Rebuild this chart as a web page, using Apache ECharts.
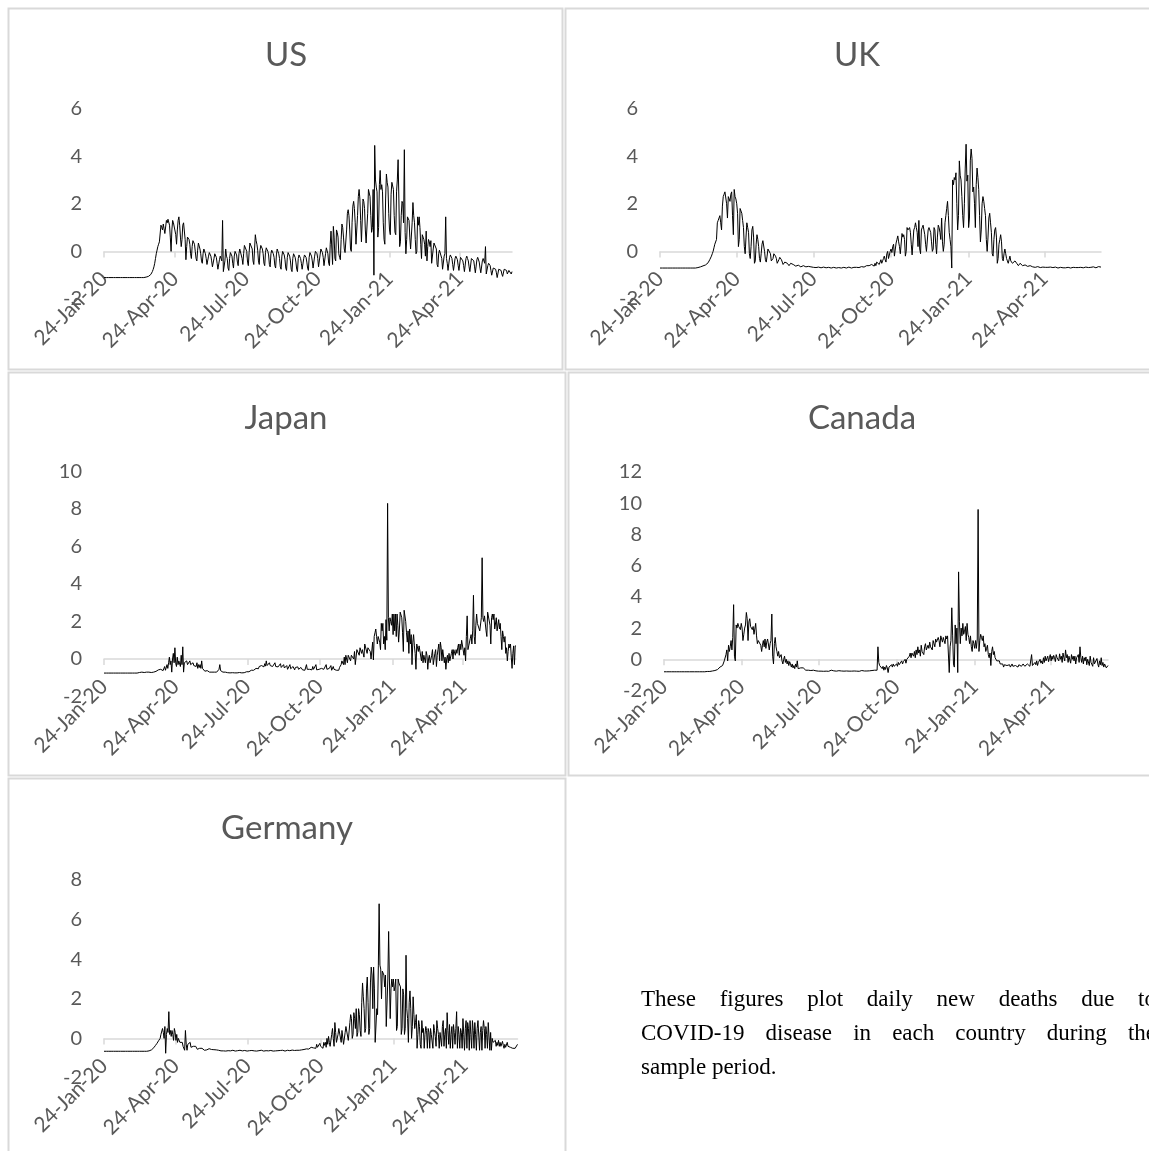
<!DOCTYPE html>
<html><head><meta charset="utf-8">
<script src="https://cdn.jsdelivr.net/npm/echarts@6/dist/echarts.min.js"></script>
<style>html,body{margin:0;padding:0;background:#fff;overflow:hidden}#c{width:1149px;height:1151px}</style>
</head><body><div id="c"></div><script>
// Daily observations from 24-Jan-20, 524 days
const START_DATE = [2020, 0, 24];
const DAY_COUNT = 524;
const TICK_LABELS = ['24-Jan-20','24-Apr-20','24-Jul-20','24-Oct-20','24-Jan-21','24-Apr-21'];
const COUNTRIES = ['US','UK','Japan','Canada','Germany'];
const Y_MIN = [-2,-2,-2,-2,-2];
const Y_MAX = [6,6,10,12,8];

const US = [
-1.1,-1.1,-1.1,-1.1,-1.1,-1.1,-1.1,-1.1,-1.1,-1.1,-1.1,-1.1,-1.1,
-1.1,-1.1,-1.1,-1.1,-1.1,-1.1,-1.1,-1.1,-1.1,-1.1,-1.1,-1.1,-1.1,
-1.1,-1.1,-1.1,-1.1,-1.1,-1.1,-1.1,-1.1,-1.1,-1.1,-1.1,-1.1,-1.1,
-1.1,-1.1,-1.1,-1.1,-1.1,-1.1,-1.1,-1.1,-1.1,-1.1,-1.1,-1.1,-1.1,
-1.1,-1.09,-1.08,-1.07,-1.06,-1.05,-1.03,-1,-0.97,-0.92,-0.85,-0.76,-0.65,-0.5,-0.3,-0.1,0.05,0.2,0.3,0.4,0.45,
1.1,1,0.9,1.15,0.95,0.75,0.8,1.3,1.2,1.35,1.4,1.1,0.6,0,0.9,1.3,1.2,1.25,1.2,0.7,0.3,0.9,1.3,1.45,1.1,0.6,0.2,0.5,1.1,1.2,1.2,0.5,
-0.35,0.2,0.6,0.65,0.5,0.3,-0.1,
-0.3,0.2,0.45,0.4,0.3,0,-0.3,
-0.4,0.05,0.35,0.3,0.1,-0.1,-0.4,
-0.5,-0.1,0.1,0.05,-0.1,-0.3,-0.55,
-0.6,-0.2,-0.05,-0.1,-0.2,-0.4,-0.65,
-0.7,-0.3,-0.1,-0.15,-0.25,-0.5,-0.75,
-0.8,-0.35,-0.2,-0.3,-0.4,1.3,-0.85,
-0.85,-0.4,0.1,-0.2,
-0.3,-0.7,-0.8,-0.3,-0.05,-0.1,-0.2,
-0.5,-0.7,-0.2,0,-0.05,-0.15,-0.45,
-0.6,-0.1,0.1,0.15,0.05,-0.3,-0.55,
-0.1,0.25,0.3,0.2,0,-0.45,-0.6,
-0.05,0.35,0.4,0.3,0.1,-0.4,-0.55,
0.1,0.7,0.45,0.3,0.05,-0.4,-0.55,
0.05,0.25,0.2,0.1,-0.1,-0.5,-0.6,
-0.05,0.15,0.1,0,-0.15,-0.55,-0.65,
-0.1,0.05,0,-0.1,-0.25,-0.6,-0.7,
-0.15,0.1,0,-0.1,-0.3,-0.65,-0.75,
-0.2,0,-0.05,-0.15,-0.35,-0.7,-0.8,
-0.25,-0.05,-0.1,-0.2,-0.4,-0.75,-0.85,
-0.3,-0.1,-0.15,-0.25,-0.45,-0.75,-0.85,
-0.3,-0.15,-0.2,-0.3,-0.5,-0.75,-0.8,
-0.3,-0.15,-0.15,-0.25,-0.45,-0.7,-0.8,
-0.25,-0.05,-0.1,-0.2,-0.4,-0.7,-0.75,
-0.2,0,-0.05,-0.1,-0.3,-0.65,-0.7,
-0.15,0.1,0.05,-0.05,-0.25,-0.6,-0.65,
-0.1,0.15,0.1,-0.1,-0.5,-0.6,0.3,
0.85,0.9,-0.55,1.05,0.6,-0.3,-0.4,
0.9,0.8,0.6,-0.1,-0.25,-0.35,0.5,
1.15,1,0.6,0.1,-0.05,0,0.9,
1.6,1.75,1.5,0.9,0.1,0,1.2,
1.9,2.1,1.8,1.2,0.3,0.25,1.5,
2.3,2.6,2.2,1.3,0.4,0.35,2.2,
2.1,1.8,0.9,0.35,0.4,1.6,2.6,
2.6,2.3,1.5,0.8,1,2.6,-1,
4.45,3,2.7,2.5,0.6,1,2.8,
3.4,2.6,2.8,2.5,1.2,0.5,0.3,
2.2,3.25,2.9,2.7,1.6,0.9,0.7,
2.4,2.9,2.9,2.6,1.5,0.8,0.7,
2.5,3,3.85,2.2,0.2,0.4,1.5,
2.1,2,1.2,4.27,0.8,-0.1,0.5,
1.45,1.5,1.3,0.6,0.1,0.15,1.2,
2.05,1.5,1.2,0.5,-0.1,0,1.45,
1.1,1.45,1,0.3,-0.3,0.7,0.6,
0.5,0.3,-0.2,0.85,-0.4,0.2,0.5,
0.4,0.2,0.45,-0.5,-0.55,0.1,0.35,
0.3,0.4,0.1,-0.55,-0.65,-0.1,0.05,
0,0.05,-0.3,-0.75,-0.8,-0.2,-0.1,
1.45,-0.3,
-0.5,-0.8,-0.85,-0.25,-0.15,-0.2,-0.3,
-0.55,-0.8,-0.85,-0.3,-0.2,-0.25,-0.35,
-0.6,-0.8,-0.85,-0.25,-0.2,-0.25,-0.4,
-0.6,-0.85,-0.85,-0.3,-0.2,-0.3,-0.4,
-0.65,-0.85,-0.9,-0.3,-0.25,-0.3,-0.4,
-0.65,-0.9,-0.9,-0.35,-0.25,-0.3,-0.45,
-0.7,-0.9,-0.95,-0.4,-0.3,-0.35,-0.5,
0.2,-0.95,
-0.9,-0.6,-0.5,-0.55,-0.6,-0.8,-1,
-1.05,-0.7,-0.65,-0.7,-0.75,-0.9,-1.1,
-1.1,-0.75,-0.7,-0.75,-0.8,-0.95,-1.05,
-1.05,-0.75,-0.7,-0.75,-0.8,-0.95,-1,
-0.8,-0.75,-0.8,-0.95,-0.85
];

const UK = [
-0.7,-0.7,-0.7,-0.7,-0.7,-0.7,-0.7,-0.7,-0.7,-0.7,
-0.7,-0.7,-0.7,-0.7,-0.7,-0.7,-0.7,-0.7,-0.7,-0.7,
-0.7,-0.7,-0.7,-0.7,-0.7,-0.7,-0.7,-0.7,-0.7,-0.7,
-0.7,-0.7,-0.7,-0.7,-0.7,-0.7,-0.7,-0.7,-0.7,-0.7,
-0.7,-0.7,-0.7,
-0.7,-0.69,-0.68,-0.67,-0.66,-0.65,-0.64,-0.62,-0.61,-0.6,
-0.58,-0.57,-0.55,-0.52,-0.48,-0.42,-0.35,-0.3,-0.2,-0.1,
0,0.15,0.3,0.25,0.5,1.2,1.3,1.35,1.5,1.2,
0.9,1.9,2.3,2.4,2.5,2.55,2,1.4,2.3,2.2,
2.1,2.4,2.5,1.5,0.7,2.6,2.3,2.2,2,1.6,
0.2,0.5,1.8,1.85,1.6,1.3,1,0.2,-0.1,0.6,
1.2,1,0.8,-0.1,-0.3,0.2,0.9,1.05,0.6,-0.5,
-0.4,0.3,0.7,0.5,0.2,-0.3,-0.45,-0.1,0.3,0.45,
0.45,0,-0.35,-0.45,-0.2,0.1,0.05,0.05,-0.1,-0.4,
-0.45,-0.3,-0.1,-0.15,-0.2,-0.3,-0.5,-0.5,-0.35,-0.25,
-0.3,-0.35,-0.45,-0.55,-0.55,-0.45,-0.4,-0.45,-0.5,-0.55,
-0.6,-0.6,-0.5,-0.5,-0.52,-0.55,-0.6,-0.62,-0.62,-0.55,
-0.55,-0.58,-0.6,-0.63,-0.65,-0.65,-0.6,-0.6,-0.62,-0.63,
-0.65,-0.66,-0.66,-0.63,-0.63,-0.64,-0.65,-0.66,-0.67,-0.67,
-0.66,-0.67,-0.68,-0.68,-0.67,-0.66,-0.67,-0.68,-0.69,-0.68,
-0.67,-0.66,-0.67,-0.68,-0.69,-0.69,-0.68,-0.67,-0.68,-0.69,
-0.7,-0.69,-0.68,-0.67,-0.68,-0.69,-0.7,-0.7,-0.69,-0.68,
-0.69,-0.7,-0.7,-0.69,-0.68,-0.67,-0.68,-0.69,-0.7,-0.69,
-0.68,-0.66,-0.67,-0.69,-0.7,-0.68,-0.66,-0.67,-0.68,-0.69,
-0.67,-0.65,-0.66,-0.68,-0.69,-0.67,-0.64,-0.66,
-0.64,-0.66,-0.67,-0.62,-0.6,-0.62,-0.64,
-0.6,-0.64,-0.55,-0.55,-0.58,-0.6,-0.62,
-0.5,-0.6,-0.45,-0.5,-0.52,-0.55,-0.58,
-0.35,-0.5,-0.4,-0.3,-0.2,-0.35,-0.45,
-0.1,0,-0.3,-0.35,0,0.1,-0.05,0.2,0.3,-0.2,
-0.25,0.35,0.5,0.65,0.4,0.2,-0.1,-0.15,0.75,0.6,
0.7,0.5,-0.2,0,1,0.9,0.95,1,0.8,0.3,
-0.15,-0.2,0.9,1,1.2,1,0.8,0.2,1.3,0.1,
-0.1,0.9,1,1.1,1.1,0.7,0.3,0,-0.05,0.9,
1,1,0.8,0.4,0,0.1,1,0.9,0.3,-0.1,
0.6,1.1,1,0.8,0.5,1.4,0.4,0,0.3,1.2,
1.5,1.8,2.1,1.5,0.8,0.5,0.2,-0.7,3,2.8,
3.1,3,3.3,2,0.9,1.5,3.8,3.2,3,2.3,
1.5,1,2,3.5,4.5,2.95,3.2,1,1.4,3.8,
4.3,3.9,2.5,2.7,2,1,2.8,3.5,3.1,2.6,
1.5,0.4,0.9,2,2.3,2.1,1.8,1.5,0.5,0,
0.6,1.4,1.6,1.2,0.8,-0.1,-0.2,0.5,0.9,1,
0.6,-0.5,-0.3,0.3,0.5,0.7,0.4,-0.3,-0.4,-0.1,
0.1,-0.1,-0.3,-0.4,-0.5,-0.35,-0.2,-0.4,-0.45,-0.5,
-0.55,-0.45,-0.4,-0.45,-0.5,-0.55,-0.6,-0.55,-0.5,-0.55,
-0.58,-0.6,-0.63,-0.6,-0.57,-0.6,-0.62,-0.63,-0.65,-0.63,
-0.6,-0.62,-0.64,-0.65,
-0.66,-0.65,-0.67,-0.68,-0.66,-0.64,-0.66,-0.67,-0.68,-0.67,
-0.65,-0.66,-0.68,-0.69,-0.67,-0.65,-0.66,-0.67,-0.69,-0.68,
-0.66,-0.65,-0.67,-0.68,-0.69,-0.67,-0.66,-0.68,-0.69,-0.7,
-0.68,-0.66,-0.67,-0.69,-0.7,-0.69,-0.67,-0.68,-0.69,-0.7,
-0.68,-0.67,-0.68,-0.69,-0.7,-0.68,-0.66,-0.67,-0.69,-0.69,
-0.68,-0.66,-0.67,-0.68,-0.7,-0.69,-0.67,-0.66,-0.68,-0.69,
-0.68,-0.67,-0.66,-0.68,-0.69,-0.68,-0.66,-0.65,-0.67,-0.68,
-0.67,-0.65,-0.66,-0.68,-0.69,-0.67,-0.65,-0.64,-0.66,-0.67,
-0.66
];

const JAPAN = [
-0.75,-0.75,-0.75,-0.75,-0.75,-0.75,-0.75,-0.75,-0.75,-0.75,
-0.75,-0.75,-0.75,-0.75,-0.75,-0.75,-0.75,-0.75,-0.75,-0.75,
-0.75,-0.75,-0.75,-0.75,-0.75,-0.75,-0.75,-0.75,-0.75,-0.75,
-0.75,-0.75,-0.75,-0.75,-0.75,-0.75,-0.75,-0.75,-0.75,-0.75,
-0.75,
-0.74,-0.75,-0.73,-0.75,-0.72,-0.74,-0.75,-0.7,-0.73,-0.74,
-0.72,-0.68,-0.73,-0.7,-0.66,-0.72,-0.7,-0.65,-0.7,-0.72,
-0.66,-0.62,-0.7,-0.68,-0.6,-0.66,-0.7,-0.62,-0.58,-0.68,
-0.6,-0.55,-0.65,-0.5,-0.62,-0.58,-0.4,-0.6,-0.55,-0.3,
-0.5,-0.2,0.1,-0.3,-0.1,-0.7,0,0.3,-0.2,0.6,
-0.2,-0.4,0.1,-0.3,-0.1,-0.15,-0.4,0.2,-0.3,0.65,
-0.7,-0.2,-0.3,-0.1,-0.1,-0.3,-0.2,-0.4,-0.1,-0.3,
-0.2,-0.4,-0.2,-0.35,-0.3,-0.45,-0.4,-0.2,-0.5,-0.3,
-0.45,-0.3,-0.5,-0.1,-0.5,-0.6,-0.55,-0.65,-0.6,-0.65,
-0.62,-0.68,-0.65,-0.7,-0.66,-0.64,-0.7,-0.68,-0.62,-0.7,
-0.68,-0.65,-0.7,-0.66,-0.6,-0.55,-0.3,-0.62,-0.7,-0.68,
-0.7,-0.72,-0.68,-0.7,-0.72,-0.7,-0.73,-0.7,-0.72,-0.74,
-0.72,-0.74,-0.73,-0.75,-0.72,-0.74,-0.75,-0.73,-0.74,-0.75,
-0.74,-0.72,-0.75,-0.73,-0.74,-0.72,-0.7,-0.73,-0.72,-0.7,
-0.68,-0.7,-0.65,-0.68,-0.62,-0.66,-0.6,-0.63,-0.58,-0.6,
-0.55,-0.58,-0.5,-0.55,-0.48,-0.52,-0.4,-0.5,-0.45,-0.35,
-0.45,-0.3,-0.42,-0.25,-0.38,-0.1,-0.35,-0.3,-0.4,-0.2,
-0.35,-0.45,-0.25,-0.4,-0.3,
-0.45,-0.2,-0.4,-0.5,-0.3,-0.42,-0.35,-0.5,-0.25,-0.45,
-0.4,-0.55,-0.3,-0.48,-0.4,-0.5,-0.35,-0.55,-0.45,-0.5,
-0.3,-0.52,-0.45,-0.55,-0.4,-0.5,-0.58,-0.45,-0.5,-0.55,
-0.42,-0.55,-0.5,-0.6,-0.45,-0.52,-0.58,-0.5,-0.55,-0.6,
-0.5,-0.3,-0.55,-0.6,-0.45,-0.55,-0.6,-0.5,-0.58,-0.4,
-0.55,-0.6,-0.5,-0.3,-0.58,-0.5,-0.6,-0.55,-0.45,-0.6,
-0.5,-0.58,-0.4,-0.55,-0.6,-0.5,-0.3,-0.55,-0.45,-0.6,
-0.5,-0.55,-0.35,-0.6,-0.5,-0.4,-0.55,-0.58,-0.45,-0.6,
-0.5,-0.55,-0.6,-0.45,-0.4,
-0.3,-0.1,0,-0.3,0.1,-0.3,0.2,0.1,-0.2,0.2,
0.1,0.3,-0.1,0.2,0.3,0.3,0,0.4,-0.3,-0.3,
0.5,0.4,0.6,0.2,0.6,0.7,0.3,0.5,0.5,0.1,
0.8,0.7,0.8,0.3,0.6,0.7,0.7,0.4,0,-0.05,
0.9,-0.05,1.2,1.4,1.6,1.2,0.8,1.2,1.2,0.9,
0.5,1.9,1.5,1.9,0.8,1.2,0.5,2.1,1,
8.3,
2.2,1.5,2.2,2,1.8,2.4,1.3,2.4,1.5,2.4,
1.2,2.4,1.8,0.9,1.6,2.5,2.6,2.2,1.4,0.4,
2.6,2.6,2,1.4,0.9,1.5,0.3,1.6,0.8,1.3,
-0.3,0.9,1.3,0.7,0.3,-0.55,0.8,0.9,0.4,0.7,
0.7,0.8,-0.1,0.4,-0.2,0.2,0.3,-0.2,0.4,0.2,
-0.55,0,0.2,-0.2,-0.1,0.2,0.5,-0.3,0,0.3,
0.5,-0.4,0.2,0.5,0.8,-0.1,0.9,0.6,-0.1,0.5,
0.4,-0.2,0.1,-0.55,0,0.2,-0.2,0.3,-0.1,-0.2,
0.3,0.5,0,0.5,0.4,0.2,0.5,0.3,0.6,0.8,
0.2,0.8,0.5,1,0.9,0.9,0.2,0.6,-0.1,1.2,
2.3,0.5,0.7,0.7,1.1,1.3,0.8,1.5,3.4,1.2,
0.8,1.8,2.4,1.9,1.8,2,1.5,1.5,2.2,5.4,
2.2,2,2.3,2.3,1.5,1.2,2.5,2.4,2.5,1.8,
0.8,2.2,2.4,2.1,2.4,1.6,1.5,2.2,1.5,1.5,
2.1,1.6,1.9,1.2,0.5,1.5,1.2,0.9,1.2,0.3,
0.6,-0.1,0.4,0.8,0.6,0.8,0.1,-0.5,0.3,0.7,
-0.3,0.7,0.7
];

const CANADA = [
-0.8,-0.8,-0.8,-0.8,-0.8,-0.8,-0.8,-0.8,-0.8,-0.8,
-0.8,-0.8,-0.8,-0.8,-0.8,-0.8,-0.8,-0.8,-0.8,-0.8,
-0.8,-0.8,-0.8,-0.8,-0.8,-0.8,-0.8,-0.8,-0.8,-0.8,
-0.8,-0.8,-0.8,-0.8,-0.8,-0.8,-0.8,-0.8,-0.8,-0.8,
-0.8,-0.8,-0.8,-0.8,-0.8,-0.8,-0.8,-0.8,-0.8,-0.8,
-0.8,-0.78,-0.8,-0.76,-0.78,-0.74,-0.72,-0.75,-0.7,-0.68,-0.72,-0.65,-0.6,-0.66,-0.55,-0.6,-0.5,-0.52,-0.45,-0.4,-0.3,
-0.1,-0.2,0.3,0.6,-0.1,0.9,0.5,0.8,1.2,0.6,
1.4,3.5,0.2,-0.1,2.2,2,2.3,2.1,2,1.9,
2.3,2,1.2,1.6,2,2.2,3,2.6,1.2,2.4,
2.6,2.1,2.2,1.9,2.1,1.6,1.6,2.3,1.5,1,
1.2,1.3,1.2,0.9,0.5,0.9,1.2,0.8,1.3,0.7,
1.1,1.3,1.3,0.6,1,1.2,2.9,0.2,-0.3,1,
1.4,0.8,0.5,0.2,0.5,0.1,0,0.3,-0.1,-0.3,
0,0.2,-0.2,0,-0.3,-0.1,-0.4,-0.15,-0.3,-0.5,
-0.3,-0.55,-0.4,-0.6,-0.3,-0.5,-0.1,-0.6,-0.5,-0.6,
-0.55,-0.65,-0.6,-0.55,-0.65,-0.6,-0.7,-0.6,-0.65,-0.7,
-0.65,-0.7,-0.72,-0.68,-0.74,-0.7,-0.75,-0.72,-0.74,-0.75,
-0.74,-0.76,-0.75,-0.72,-0.76,-0.74,-0.75,-0.77,-0.74,-0.72,
-0.76,-0.75,-0.73,-0.77,-0.74,-0.76,-0.7,-0.75,-0.77,-0.74,
-0.75,-0.72,-0.76,-0.74,-0.78,-0.73,-0.76,-0.7,-0.75,-0.77,
-0.74,-0.76,-0.72,-0.78,-0.75,-0.73,-0.77,-0.76,-0.74,-0.78,
-0.76,-0.72,-0.77,-0.75,-0.79,-0.74,-0.76,-0.78,-0.73,-0.77,
-0.75,-0.78,-0.72,-0.76,-0.79,-0.75,-0.73,-0.77,-0.75,-0.72,
-0.76,-0.74,-0.7,-0.75,-0.72,-0.76,-0.73,-0.7,-0.74,-0.72,-0.7,
0.8,
-0.2,-0.4,-0.5,-0.3,-0.6,-0.45,-0.7,-0.5,-0.65,-0.4,
-0.55,-0.85,-0.5,-0.4,-0.6,-0.35,-0.5,-0.3,-0.45,-0.35,
-0.4,-0.3,-0.45,-0.2,-0.35,-0.25,-0.3,-0.1,-0.3,-0.15,
-0.2,0,-0.25,0,0.1,-0.1,0.2,0.4,
0.1,0.4,0.3,0.2,0.5,0.1,0.6,0.3,0.8,0.4,
0.6,0.2,0.9,0.5,0.6,0.3,0.8,1,0.6,0.5,
0.9,0.7,1.1,0.8,0.9,0.6,1.2,1,0.8,1.3,
1.1,1,1.4,1.2,0.8,1.5,1.3,1.1,1.4,1.2,
1,1.5,1.3,1.5,
1.5,-0.85,0.8,1.2,3.3,1.5,-0.3,-0.5,2.2,1,
2,-0.85,5.6,2.4,1,2,1.5,2.3,1.6,1.8,
2.1,1.2,2.3,1.6,1.4,1,1.5,0.8,0.5,1.2,
1,0.7,1.2,0.7,1.3,9.6,0.5,1.2,1.6,1.4,
1.2,1.5,0.8,1,0.5,0.7,0.9,0.3,0.1,0.4,
-0.4,0.5,0.8,0.3,0.5,0.1,0.2,-0.1,0,-0.2,
-0.1,-0.3,
-0.2,-0.4,-0.3,-0.5,-0.35,-0.3,-0.45,-0.4,-0.3,-0.45,
-0.35,-0.5,-0.4,-0.3,-0.45,-0.35,-0.5,-0.4,-0.3,-0.45,
-0.5,-0.35,-0.4,-0.25,-0.45,-0.5,-0.3,-0.4,-0.45,-0.35,
-0.5,-0.3,-0.4,-0.2,-0.45,-0.35,
0.3,
-0.4,-0.3,-0.45,-0.2,-0.35,-0.1,-0.4,-0.2,-0.3,0,
-0.25,-0.1,-0.3,0.1,-0.2,0.2,-0.1,0,0.2,-0.15,
0.1,0.3,-0.1,0.2,0,0.25,0.1,-0.15,0.3,0.1,
0.2,-0.1,0.35,0,0.2,-0.2,0.4,0.1,-0.1,0.6,
0.1,0.3,-0.2,0.2,0.1,-0.25,0.3,0,0.2,-0.1,
0.2,-0.3,0.1,0,0.3,-0.2,0.8,0.1,-0.2,0.2,
-0.3,0.1,-0.1,0.15,-0.35,0,0.1,-0.4,0.2,-0.2,
-0.1,-0.45,0.1,-0.3,-0.2,-0.4,0.05,-0.3,-0.5,-0.1,
-0.35,0.1,-0.4,-0.2,-0.5,-0.3,-0.25,-0.55,-0.45,-0.4
];

const GERMANY = [
-0.65,-0.65,-0.65,-0.65,-0.65,-0.65,-0.65,-0.65,-0.65,-0.65,
-0.65,-0.65,-0.65,-0.65,-0.65,-0.65,-0.65,-0.65,-0.65,-0.65,
-0.65,-0.65,-0.65,-0.65,-0.65,-0.65,-0.65,-0.65,-0.65,-0.65,
-0.65,-0.65,-0.65,-0.65,-0.65,-0.65,-0.65,-0.65,-0.65,-0.65,
-0.65,-0.65,-0.65,-0.65,-0.65,-0.65,-0.65,-0.65,-0.65,-0.65,
-0.65,-0.65,-0.65,-0.65,-0.65,-0.65,
-0.64,-0.63,-0.62,-0.6,-0.58,-0.55,-0.5,-0.47,-0.42,-0.36,
-0.3,-0.25,-0.2,-0.12,-0.05,0,0.2,0.1,0.5,0.3,
0,0.6,-0.75,0.2,0.5,0.3,1.35,0.2,0.4,0.1,
0.4,0.2,-0.1,0.5,0.3,-0.1,0.2,-0.2,0,0.1,
-0.2,-0.1,-0.3,-0.2,-0.4,
-0.3,-0.6,0.4,-0.3,-0.6,-0.3,-0.4,-0.3,-0.2,-0.45,
-0.35,-0.5,-0.4,-0.45,-0.5,-0.4,-0.45,-0.55,-0.45,-0.5,
-0.5,-0.55,-0.45,-0.5,-0.55,-0.52,-0.6,-0.5,-0.55,-0.58,
-0.55,-0.6,-0.52,-0.58,-0.6,-0.56,-0.6,-0.62,-0.57,-0.6,
-0.62,-0.58,-0.6,-0.63,-0.6,-0.62,-0.58,-0.63,-0.61,-0.6,
-0.63,-0.6,-0.62,-0.64,-0.61,
-0.63,-0.62,-0.64,-0.61,-0.63,-0.62,-0.64,-0.6,-0.63,-0.62,
-0.64,-0.61,-0.63,-0.62,-0.64,-0.63,-0.6,-0.62,-0.64,-0.63,
-0.62,-0.64,-0.61,-0.63,-0.62,-0.64,-0.6,-0.63,-0.62,-0.64,
-0.63,-0.61,-0.62,-0.64,-0.63,-0.6,-0.62,-0.64,-0.63,-0.61,
-0.62,-0.64,-0.63,-0.6,-0.62,-0.63,-0.64,-0.61,-0.63,-0.62,
-0.64,-0.6,-0.63,-0.62,-0.64,-0.61,-0.63,-0.62,-0.64,-0.6,
-0.62,-0.63,-0.61,-0.64,-0.62,-0.6,-0.63,-0.61,-0.64,-0.62,
-0.6,-0.63,-0.62,-0.64,-0.61,-0.62,-0.6,-0.63,-0.61,-0.62,
-0.6,-0.62,-0.59,-0.62,-0.6,-0.61,-0.58,-0.61,-0.6,-0.62,
-0.58,-0.6,-0.57,-0.6,-0.58,-0.55,-0.58,-0.56,-0.54,-0.57,
-0.53,-0.55,
-0.5,-0.54,-0.48,-0.52,-0.45,-0.5,-0.42,-0.48,-0.4,-0.45,
-0.5,-0.3,-0.45,-0.35,-0.5,-0.25,-0.4,-0.3,-0.35,-0.5,
-0.2,-0.35,-0.2,-0.45,0,-0.3,0.1,-0.2,-0.4,-0.5,
0.2,0.5,0,-0.4,0.8,0.3,-0.2,-0.3,0.2,0.5,
0.5,0.4,-0.2,
0.4,0.3,-0.3,-0.2,0.3,0.6,0.7,0.5,-0.1,-0.2,
0.8,1.2,1,0,0.2,1.3,1,0.5,1.5,0.1,
0.3,1.5,1.2,0.4,0.1,1.8,2.8,2.1,1.5,0.3,
0.5,2.5,3.1,1.8,0.2,0.5,2.8,3.6,3.2,1.5,
3.6,2.5,-0.2,-0.2,1.5,1.2,3.7,
6.8,3.7,3.5,2,3.4,3.3,3.2,2.6,3.2,0.6,
0.5,3,5.4,3,1,2.5,3,2.6,3,2.4,
2.6,3,0.4,0.6,3,2.8,2.9,2.6,0.2,0.5,
2.5,2.2,0.2,0.5,4.2,1.5,1,-0.2,1.8,2.4,
1.5,0,0.6,2.1,1.2,0.5,0.8,1.2,-0.5,0.2,
0.9,0.6,-0.3,
-0.5,0.9,0.3,0.5,-0.5,0.2,0.6,0.4,-0.5,0.5,
0.3,-0.5,0.5,0.2,0.3,-0.5,0.7,0.4,0.1,-0.4,
0.9,0.5,0.2,-0.5,0.3,0.4,-0.4,0.6,0.9,-0.4,
0.2,0.5,-0.5,1.3,0.4,-0.3,0.7,-0.5,0.2,0.6,
-0.5,0.7,0.3,-0.3,0.5,1.35,-0.5,0.6,0.2,-0.5,
0.5,0.3,-0.5,1,0.2,-0.6,0.5,0.9,-0.5,0.8,
0.5,-0.6,0.9,0.2,-0.5,0.9,0.4,-0.5,0.8,0.2,
-0.6,0.5,0.9,0.8,-0.6,0.3,0.6,-0.6,0.4,0.9,
0.5,-0.5,0.6,0.2,-0.5,0.8,0.9,-0.6,0.3,-0.6,
0,-0.2,-0.1,-0.3,-0.1,-0.4,-0.2,-0.35,-0.1,-0.4,
-0.2,-0.4,-0.5,-0.15,-0.35,-0.5,-0.3,-0.45,-0.5,-0.2,
-0.4,-0.5,-0.3,-0.45,-0.5,-0.35,-0.5,-0.4,-0.45,-0.5,
-0.4,-0.45,-0.3
];

const SERIES = [US, UK, JAPAN, CANADA, GERMANY];
const NOTE_LINES = [
  ['These','figures','plot','daily','new','deaths','due','to'],
  ['COVID-19','disease','in','each','country','during','the'],
  ['sample','period.']
];

// ---- layout / style (not data) ----
const MONTHS = ['Jan','Feb','Mar','Apr','May','Jun','Jul','Aug','Sep','Oct','Nov','Dec'];
const categories = [];
for (let i = 0; i < DAY_COUNT; i++) {
  const d = new Date(Date.UTC(START_DATE[0], START_DATE[1], START_DATE[2] + i));
  categories.push(d.getUTCDate() + '-' + MONTHS[d.getUTCMonth()] + '-' + String(d.getUTCFullYear()).slice(2));
}
const GRIDS = [
  {left:104, top:108.5, width:408, height:190.5},
  {left:660, top:108.5, width:441, height:190.5},
  {left:104, top:471.5, width:412, height:225},
  {left:664, top:472, width:444, height:218.5},
  {left:104, top:880, width:413.5, height:198}
];
const TITLE_POS = [[286,39],[857,39],[286,402],[862,402],[287,812]];
const GRAY = '#595959';
const FONT = 'Lato, Carlito, "Open Sans", sans-serif';
const tickFn = (idx, val) => TICK_LABELS.indexOf(val) >= 0;

// justified note text
const NOTE_FONT = '23px "Liberation Serif", "Times New Roman", serif';
const NOTE_LEFT = 641, NOTE_RIGHT = 1156;
const NOTE_BASE = [1008, 1042, 1076];
const mctx = document.createElement('canvas').getContext('2d');
mctx.font = NOTE_FONT;

const graphics = [];
const boxes = [[8.5,8.5,554,361],[565.5,8.5,600,361],[8.5,372.5,557,403],[568.5,372.5,600,403],[8.5,778.5,557,400]];
boxes.forEach(b => graphics.push({type:'rect', silent:true, z:-10, shape:{x:b[0],y:b[1],width:b[2],height:b[3]}, style:{fill:'none', stroke:'#d9d9d9', lineWidth:2}}));
NOTE_LINES.forEach((words, li) => {
  const widths = words.map(w => mctx.measureText(w).width);
  const justify = li < NOTE_LINES.length - 1;
  const total = widths.reduce((a,b)=>a+b,0);
  const gap = justify ? (NOTE_RIGHT - NOTE_LEFT - total) / (words.length - 1) : mctx.measureText(' ').width;
  let x = NOTE_LEFT;
  words.forEach((w, wi) => {
    graphics.push({type:'text', silent:true, x:x, y:NOTE_BASE[li] - 8,
      style:{text:w, fill:'#000', font:NOTE_FONT, verticalAlign:'middle', align:'left'}});
    x += widths[wi] + gap;
  });
});

const option = {
  backgroundColor:'#fff',
  animation:false,
  title: COUNTRIES.map((t,i) => ({text:t, left:TITLE_POS[i][0], top:TITLE_POS[i][1], textAlign:'center', padding:0,
    textStyle:{fontFamily:FONT, fontSize:33, fontWeight:'normal', color:GRAY}})),
  grid: GRIDS.map(g => Object.assign({containLabel:false, outerBoundsMode:'none'}, g)),
  xAxis: SERIES.map((s,i) => ({
    type:'category', gridIndex:i, data:categories, boundaryGap:false, position:'bottom',
    offset: -GRIDS[i].height * (0 - Y_MIN[i]) / (Y_MAX[i] - Y_MIN[i]),
    axisLine:{show:true, onZero:false, lineStyle:{color:'#d9d9d9', width:1.5}},
    axisTick:{show:true, interval:tickFn, length:6, lineStyle:{color:'#d9d9d9', width:1.5}},
    axisLabel:{interval:tickFn, rotate:45, margin:24, color:GRAY, fontSize:21, fontFamily:FONT},
    splitLine:{show:false}
  })),
  yAxis: SERIES.map((s,i) => ({
    type:'value', gridIndex:i, min:Y_MIN[i], max:Y_MAX[i], interval:2,
    axisLine:{show:false}, axisTick:{show:false}, splitLine:{show:false},
    axisLabel:{margin:22, color:GRAY, fontSize:20, fontFamily:FONT}
  })),
  series: SERIES.map((s,i) => ({
    type:'line', name:COUNTRIES[i], xAxisIndex:i, yAxisIndex:i, data:s,
    showSymbol:false, symbol:'none', silent:true,
    lineStyle:{color:'#000', width:1}
  })),
  graphic: graphics
};
const chart = echarts.init(document.getElementById('c'), null, {renderer:'canvas'});
chart.setOption(option);
</script></body></html>
